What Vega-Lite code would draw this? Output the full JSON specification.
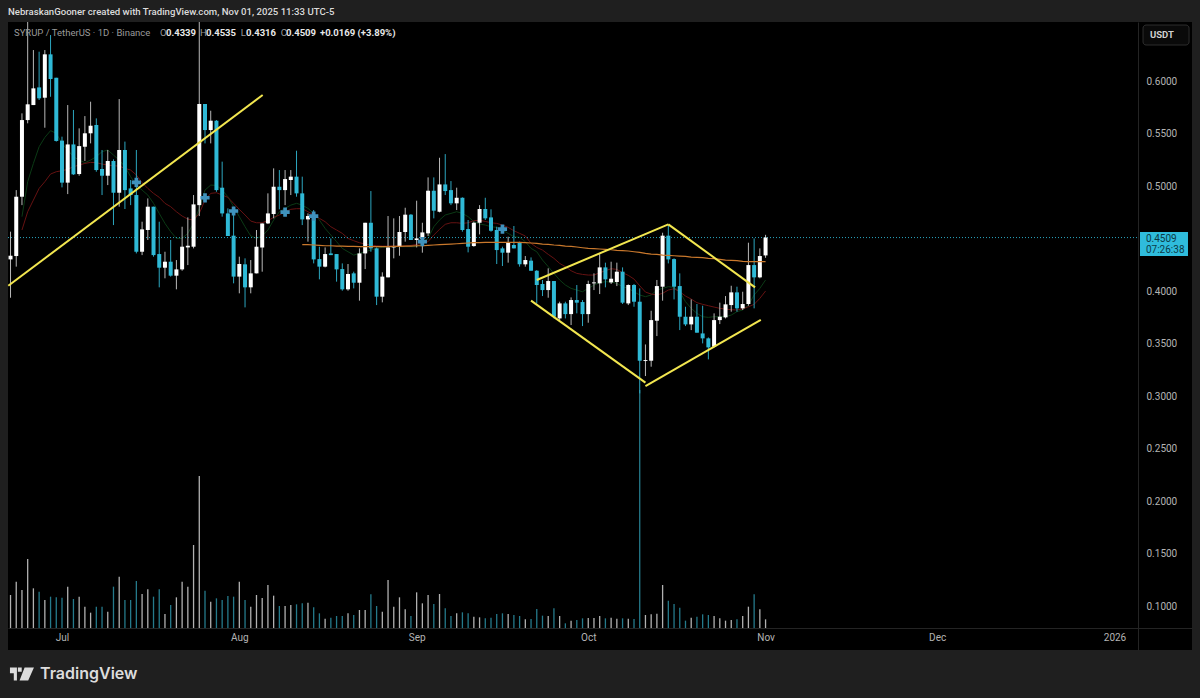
{
"$schema":"https://vega.github.io/schema/vega-lite/v6.json",
"description":"SYRUP / TetherUS daily candles with volume, moving averages and hand drawn trendlines.",
"width":1184,"height":628,
"autosize":{"type":"none"},
"padding":{"left":8,"top":22,"right":8,"bottom":48},
"background":"#1f1f1f",
"config":{"view":{"fill":"#000000","stroke":null},"font":"Roboto"},
"title":{"text":"NebraskanGooner created with TradingView.com, Nov 01, 2025 11:33 UTC-5","anchor":"start","frame":"group","offset":5,"fontSize":9.6,"fontWeight":500,"color":"#dcdcdc","font":"Roboto"},
"datasets":{
"candles":[
{"date":"2025-06-22","open":0.4301,"high":0.4565,"low":0.3936,"close":0.4336,"volume":9.9},
{"date":"2025-06-23","open":0.4333,"high":0.4961,"low":0.4232,"close":0.4898,"volume":13.9},
{"date":"2025-06-24","open":0.4898,"high":0.5692,"low":0.4818,"close":0.5628,"volume":11.4,"fast":0.4708,"slow":0.4581},
{"date":"2025-06-25","open":0.5628,"high":0.68,"low":0.5597,"close":0.5778,"volume":20.7,"fast":0.5041,"slow":0.4755},
{"date":"2025-06-26","open":0.5771,"high":0.6295,"low":0.5771,"close":0.593,"volume":11.9,"fast":0.5215,"slow":0.4866},
{"date":"2025-06-27","open":0.5939,"high":0.6279,"low":0.5819,"close":0.5835,"volume":10.9,"fast":0.5374,"slow":0.4977},
{"date":"2025-06-28","open":0.5841,"high":0.6295,"low":0.5555,"close":0.6254,"volume":8.4,"fast":0.5463,"slow":0.5041},
{"date":"2025-06-29","open":0.6254,"high":0.6438,"low":0.585,"close":0.6019,"volume":9.4,"fast":0.5527,"slow":0.5114},
{"date":"2025-06-30","open":0.6031,"high":0.6031,"low":0.5423,"close":0.5429,"volume":9.2,"fast":0.5502,"slow":0.5136},
{"date":"2025-07-01","open":0.5432,"high":0.547,"low":0.4987,"close":0.5032,"volume":9.1,"fast":0.5406,"slow":0.5146},
{"date":"2025-07-02","open":0.5032,"high":0.5771,"low":0.4923,"close":0.5396,"volume":12.4,"fast":0.5343,"slow":0.5159},
{"date":"2025-07-03","open":0.5396,"high":0.5724,"low":0.5105,"close":0.5111,"volume":8.7,"fast":0.5279,"slow":0.5184},
{"date":"2025-07-04","open":0.5114,"high":0.5549,"low":0.5098,"close":0.538,"volume":9.4,"fast":0.5247,"slow":0.52},
{"date":"2025-07-05","open":0.5374,"high":0.5666,"low":0.5238,"close":0.5502,"volume":6.4,"fast":0.5222,"slow":0.5215},
{"date":"2025-07-06","open":0.5502,"high":0.5803,"low":0.5406,"close":0.5574,"volume":4.6,"fast":0.5247,"slow":0.5225},
{"date":"2025-07-07","open":0.5581,"high":0.5644,"low":0.5136,"close":0.5152,"volume":6.4,"fast":0.5279,"slow":0.5222},
{"date":"2025-07-08","open":0.5162,"high":0.5343,"low":0.4914,"close":0.5098,"volume":6.4,"fast":0.5327,"slow":0.5209},
{"date":"2025-07-09","open":0.5098,"high":0.5343,"low":0.5009,"close":0.5238,"volume":4.9,"fast":0.5343,"slow":0.52},
{"date":"2025-07-10","open":0.5238,"high":0.5254,"low":0.4628,"close":0.4936,"volume":12.4,"fast":0.5295,"slow":0.5193},
{"date":"2025-07-11","open":0.4936,"high":0.5828,"low":0.4803,"close":0.5343,"volume":15.4,"fast":0.5247,"slow":0.519},
{"date":"2025-07-12","open":0.5343,"high":0.5423,"low":0.4781,"close":0.4961,"volume":8.4,"fast":0.5184,"slow":0.5168},
{"date":"2025-07-13","open":0.4977,"high":0.5057,"low":0.4818,"close":0.4914,"volume":8.4,"fast":0.5089,"slow":0.5152},
{"date":"2025-07-14","open":0.4914,"high":0.5343,"low":0.4358,"close":0.4374,"volume":14.1,"fast":0.5009,"slow":0.5105},
{"date":"2025-07-15","open":0.4374,"high":0.466,"low":0.4342,"close":0.4587,"volume":10.2,"fast":0.4961,"slow":0.5032},
{"date":"2025-07-16","open":0.4581,"high":0.4882,"low":0.4486,"close":0.4803,"volume":11.6,"fast":0.4914,"slow":0.4977},
{"date":"2025-07-17","open":0.4803,"high":0.4803,"low":0.4327,"close":0.4342,"volume":9.4,"fast":0.4835,"slow":0.493},
{"date":"2025-07-18","open":0.4352,"high":0.466,"low":0.4035,"close":0.4222,"volume":11.6,"fast":0.4739,"slow":0.4892},
{"date":"2025-07-19","open":0.4222,"high":0.4374,"low":0.4121,"close":0.4279,"volume":4.2,"fast":0.4644,"slow":0.4835},
{"date":"2025-07-20","open":0.4279,"high":0.4486,"low":0.4137,"close":0.4146,"volume":6.9,"fast":0.4565,"slow":0.4803},
{"date":"2025-07-21","open":0.4146,"high":0.4295,"low":0.4016,"close":0.4206,"volume":9.2,"fast":0.4501,"slow":0.4755},
{"date":"2025-07-22","open":0.4206,"high":0.4612,"low":0.4193,"close":0.4422,"volume":13.9,"fast":0.4501,"slow":0.4714},
{"date":"2025-07-23","open":0.4415,"high":0.4701,"low":0.4247,"close":0.4431,"volume":12.4,"fast":0.4549,"slow":0.4685},
{"date":"2025-07-24","open":0.4422,"high":0.4914,"low":0.4406,"close":0.4825,"volume":24.9,"fast":0.4644,"slow":0.4676},
{"date":"2025-07-25","open":0.4818,"high":0.75,"low":0.4714,"close":0.5781,"volume":45.6,"fast":0.4787,"slow":0.4739},
{"date":"2025-07-26","open":0.5781,"high":0.5781,"low":0.5406,"close":0.5533,"volume":11.2,"fast":0.4961,"slow":0.4866},
{"date":"2025-07-27","open":0.5533,"high":0.5717,"low":0.5406,"close":0.5622,"volume":7.9,"fast":0.5009,"slow":0.493},
{"date":"2025-07-28","open":0.5622,"high":0.5628,"low":0.4945,"close":0.4961,"volume":8.9,"fast":0.5006,"slow":0.4936},
{"date":"2025-07-29","open":0.4984,"high":0.5232,"low":0.4708,"close":0.4739,"volume":8.4,"fast":0.4961,"slow":0.4914},
{"date":"2025-07-30","open":0.4739,"high":0.4787,"low":0.4524,"close":0.4524,"volume":9.6,"fast":0.4898,"slow":0.4892},
{"date":"2025-07-31","open":0.4527,"high":0.4755,"low":0.4073,"close":0.4137,"volume":9.4,"fast":0.4803,"slow":0.4835},
{"date":"2025-08-01","open":0.4137,"high":0.4327,"low":0.3978,"close":0.4257,"volume":13.9,"fast":0.4708,"slow":0.4778},
{"date":"2025-08-02","open":0.4254,"high":0.4311,"low":0.3844,"close":0.4035,"volume":8.4,"fast":0.4612,"slow":0.4724},
{"date":"2025-08-03","open":0.4035,"high":0.4295,"low":0.3978,"close":0.4168,"volume":6.4,"fast":0.4524,"slow":0.4666},
{"date":"2025-08-04","open":0.4168,"high":0.4581,"low":0.4168,"close":0.4422,"volume":9.9,"fast":0.4501,"slow":0.465},
{"date":"2025-08-05","open":0.4415,"high":0.4644,"low":0.4184,"close":0.4644,"volume":9.0,"fast":0.4524,"slow":0.465},
{"date":"2025-08-06","open":0.4644,"high":0.493,"low":0.4638,"close":0.4739,"volume":12.9,"fast":0.4581,"slow":0.467},
{"date":"2025-08-07","open":0.4733,"high":0.5168,"low":0.4692,"close":0.4993,"volume":9.7,"fast":0.4676,"slow":0.4701},
{"date":"2025-08-08","open":0.4993,"high":0.5152,"low":0.4778,"close":0.4961,"volume":6.6,"fast":0.4755,"slow":0.4724},
{"date":"2025-08-09","open":0.4961,"high":0.5152,"low":0.4818,"close":0.5066,"volume":6.6,"fast":0.4787,"slow":0.4755},
{"date":"2025-08-10","open":0.5057,"high":0.5152,"low":0.4914,"close":0.5089,"volume":6.9,"fast":0.4818,"slow":0.4778},
{"date":"2025-08-11","open":0.5089,"high":0.5336,"low":0.4898,"close":0.493,"volume":7.1,"fast":0.4835,"slow":0.4784},
{"date":"2025-08-12","open":0.493,"high":0.5089,"low":0.4628,"close":0.4682,"volume":7.4,"fast":0.4818,"slow":0.4784,"long":0.4441},
{"date":"2025-08-13","open":0.4682,"high":0.4739,"low":0.447,"close":0.4714,"volume":7.6,"fast":0.4787,"slow":0.4755,"long":0.4441},
{"date":"2025-08-14","open":0.4708,"high":0.4771,"low":0.4263,"close":0.4301,"volume":6.2,"fast":0.4739,"slow":0.4724,"long":0.4438},
{"date":"2025-08-15","open":0.4304,"high":0.4422,"low":0.4111,"close":0.4232,"volume":4.4,"fast":0.4676,"slow":0.4692,"long":0.4434},
{"date":"2025-08-16","open":0.4232,"high":0.4415,"low":0.4225,"close":0.4352,"volume":2.8,"fast":0.4596,"slow":0.466,"long":0.4431},
{"date":"2025-08-17","open":0.4358,"high":0.4501,"low":0.4342,"close":0.4342,"volume":3.1,"fast":0.4533,"slow":0.4612,"long":0.4431},
{"date":"2025-08-18","open":0.4352,"high":0.4352,"low":0.4089,"close":0.4206,"volume":3.6,"fast":0.447,"slow":0.4581,"long":0.4428},
{"date":"2025-08-19","open":0.4209,"high":0.4263,"low":0.4003,"close":0.4016,"volume":3.6,"fast":0.4406,"slow":0.4549,"long":0.4428},
{"date":"2025-08-20","open":0.4016,"high":0.4257,"low":0.4003,"close":0.4162,"volume":4.4,"fast":0.4374,"slow":0.4501,"long":0.4425},
{"date":"2025-08-21","open":0.4168,"high":0.4184,"low":0.4025,"close":0.4079,"volume":3.9,"fast":0.4342,"slow":0.4479,"long":0.4425},
{"date":"2025-08-22","open":0.4079,"high":0.4406,"low":0.3908,"close":0.4358,"volume":5.4,"fast":0.4358,"slow":0.446,"long":0.4422},
{"date":"2025-08-23","open":0.4358,"high":0.465,"low":0.4209,"close":0.465,"volume":5.4,"fast":0.4374,"slow":0.4447,"long":0.4422},
{"date":"2025-08-24","open":0.465,"high":0.4952,"low":0.4374,"close":0.4406,"volume":10.1,"fast":0.439,"slow":0.4438,"long":0.4422},
{"date":"2025-08-25","open":0.4406,"high":0.4415,"low":0.3866,"close":0.3946,"volume":6.6,"fast":0.4406,"slow":0.4431,"long":0.4422},
{"date":"2025-08-26","open":0.3946,"high":0.4178,"low":0.3892,"close":0.4137,"volume":4.9,"fast":0.4415,"slow":0.4428,"long":0.4422},
{"date":"2025-08-27","open":0.413,"high":0.4714,"low":0.413,"close":0.4415,"volume":14.4,"fast":0.4422,"slow":0.4428,"long":0.4422},
{"date":"2025-08-28","open":0.4415,"high":0.4692,"low":0.4311,"close":0.4428,"volume":6.4,"fast":0.4422,"slow":0.4428,"long":0.4425},
{"date":"2025-08-29","open":0.4422,"high":0.4714,"low":0.4336,"close":0.4562,"volume":9.2,"fast":0.4422,"slow":0.4428,"long":0.4425},
{"date":"2025-08-30","open":0.4562,"high":0.4793,"low":0.447,"close":0.4727,"volume":5.6,"fast":0.4422,"slow":0.4428,"long":0.4428},
{"date":"2025-08-31","open":0.4727,"high":0.4733,"low":0.4486,"close":0.4486,"volume":3.6,"fast":0.4422,"slow":0.4434,"long":0.4428},
{"date":"2025-09-01","open":0.4486,"high":0.486,"low":0.4415,"close":0.4501,"volume":10.7,"fast":0.4422,"slow":0.4444,"long":0.4431},
{"date":"2025-09-02","open":0.4495,"high":0.465,"low":0.4365,"close":0.4558,"volume":7.4,"fast":0.4454,"slow":0.4454,"long":0.4431},
{"date":"2025-09-03","open":0.4549,"high":0.5082,"low":0.4524,"close":0.4955,"volume":9.9,"fast":0.4501,"slow":0.447,"long":0.4434},
{"date":"2025-09-04","open":0.4955,"high":0.5082,"low":0.4692,"close":0.4765,"volume":7.2,"fast":0.4612,"slow":0.4533,"long":0.4438},
{"date":"2025-09-05","open":0.4755,"high":0.5269,"low":0.4749,"close":0.5015,"volume":10.2,"fast":0.4676,"slow":0.4587,"long":0.4441},
{"date":"2025-09-06","open":0.5015,"high":0.5304,"low":0.4914,"close":0.4952,"volume":5.9,"fast":0.4724,"slow":0.4635,"long":0.4444},
{"date":"2025-09-07","open":0.4961,"high":0.5047,"low":0.4818,"close":0.4835,"volume":3.6,"fast":0.4739,"slow":0.465,"long":0.4447},
{"date":"2025-09-08","open":0.4835,"high":0.4984,"low":0.4771,"close":0.4888,"volume":4.4,"fast":0.4755,"slow":0.465,"long":0.445},
{"date":"2025-09-09","open":0.4888,"high":0.4892,"low":0.4565,"close":0.4581,"volume":4.7,"fast":0.4739,"slow":0.4644,"long":0.4454},
{"date":"2025-09-10","open":0.459,"high":0.4676,"low":0.4368,"close":0.4422,"volume":4.4,"fast":0.4708,"slow":0.465,"long":0.4457},
{"date":"2025-09-11","open":0.4428,"high":0.466,"low":0.4422,"close":0.465,"volume":3.4,"fast":0.466,"slow":0.467,"long":0.446},
{"date":"2025-09-12","open":0.465,"high":0.4818,"low":0.4539,"close":0.4781,"volume":3.2,"fast":0.4638,"slow":0.4673,"long":0.446},
{"date":"2025-09-13","open":0.4781,"high":0.4888,"low":0.4676,"close":0.4692,"volume":2.9,"fast":0.4628,"slow":0.4663,"long":0.4463},
{"date":"2025-09-14","open":0.4701,"high":0.4778,"low":0.4565,"close":0.4574,"volume":3.1,"fast":0.4612,"slow":0.465,"long":0.4463},
{"date":"2025-09-15","open":0.4581,"high":0.4612,"low":0.4257,"close":0.439,"volume":4.2,"fast":0.4606,"slow":0.4644,"long":0.4463},
{"date":"2025-09-16","open":0.4406,"high":0.4422,"low":0.4238,"close":0.4365,"volume":4.4,"fast":0.4581,"slow":0.4628,"long":0.4463},
{"date":"2025-09-17","open":0.4365,"high":0.4517,"low":0.427,"close":0.4463,"volume":4.2,"fast":0.4549,"slow":0.4606,"long":0.4463},
{"date":"2025-09-18","open":0.4438,"high":0.4619,"low":0.4406,"close":0.4406,"volume":3.9,"fast":0.4517,"slow":0.4574,"long":0.4463},
{"date":"2025-09-19","open":0.446,"high":0.447,"low":0.4232,"close":0.4254,"volume":3.6,"fast":0.4511,"slow":0.4549,"long":0.4463},
{"date":"2025-09-20","open":0.4254,"high":0.4333,"low":0.4232,"close":0.4295,"volume":2.6,"fast":0.447,"slow":0.4524,"long":0.446},
{"date":"2025-09-21","open":0.4289,"high":0.432,"low":0.4193,"close":0.4193,"volume":2.7,"fast":0.4406,"slow":0.4454,"long":0.4457},
{"date":"2025-09-22","open":0.4193,"high":0.4199,"low":0.3882,"close":0.4057,"volume":5.7,"fast":0.4374,"slow":0.4415,"long":0.4454},
{"date":"2025-09-23","open":0.4067,"high":0.4105,"low":0.3952,"close":0.4009,"volume":3.7,"fast":0.4295,"slow":0.439,"long":0.4447},
{"date":"2025-09-24","open":0.4009,"high":0.4216,"low":0.3936,"close":0.4095,"volume":3.6,"fast":0.4232,"slow":0.4349,"long":0.4444},
{"date":"2025-09-25","open":0.4095,"high":0.4095,"low":0.3739,"close":0.3755,"volume":5.9,"fast":0.4168,"slow":0.4311,"long":0.4438},
{"date":"2025-09-26","open":0.3739,"high":0.3898,"low":0.3723,"close":0.3882,"volume":3.6,"fast":0.4105,"slow":0.4263,"long":0.4434},
{"date":"2025-09-27","open":0.3882,"high":0.3898,"low":0.3739,"close":0.378,"volume":1.4,"fast":0.4057,"slow":0.4232,"long":0.4428},
{"date":"2025-09-28","open":0.378,"high":0.3939,"low":0.3676,"close":0.3914,"volume":2.2,"fast":0.4025,"slow":0.4193,"long":0.4425},
{"date":"2025-09-29","open":0.3914,"high":0.4057,"low":0.3787,"close":0.3889,"volume":2.4,"fast":0.4009,"slow":0.4168,"long":0.4419},
{"date":"2025-09-30","open":0.3895,"high":0.3914,"low":0.3666,"close":0.378,"volume":2.9,"fast":0.3993,"slow":0.4158,"long":0.4412},
{"date":"2025-10-01","open":0.378,"high":0.4098,"low":0.3698,"close":0.4067,"volume":3.0,"fast":0.4025,"slow":0.4152,"long":0.4406},
{"date":"2025-10-02","open":0.4073,"high":0.4168,"low":0.4009,"close":0.4082,"volume":3.0,"fast":0.4057,"slow":0.4152,"long":0.4403},
{"date":"2025-10-03","open":0.4073,"high":0.4352,"low":0.3971,"close":0.4225,"volume":3.6,"fast":0.4079,"slow":0.4174,"long":0.44},
{"date":"2025-10-04","open":0.4225,"high":0.427,"low":0.4035,"close":0.4111,"volume":2.9,"fast":0.4089,"slow":0.4193,"long":0.4396},
{"date":"2025-10-05","open":0.4082,"high":0.4279,"low":0.4067,"close":0.4117,"volume":3.1,"fast":0.4086,"slow":0.4212,"long":0.4393},
{"date":"2025-10-06","open":0.4086,"high":0.427,"low":0.4047,"close":0.4184,"volume":2.8,"fast":0.4073,"slow":0.4206,"long":0.4387},
{"date":"2025-10-07","open":0.4184,"high":0.4225,"low":0.3876,"close":0.3889,"volume":2.9,"fast":0.4041,"slow":0.4174,"long":0.4384},
{"date":"2025-10-08","open":0.3882,"high":0.4063,"low":0.3866,"close":0.4057,"volume":2.8,"fast":0.4025,"slow":0.4149,"long":0.4381},
{"date":"2025-10-09","open":0.4057,"high":0.4067,"low":0.385,"close":0.3898,"volume":2.7,"fast":0.3993,"slow":0.4114,"long":0.4374},
{"date":"2025-10-10","open":0.3898,"high":0.4025,"low":0.3025,"close":0.3336,"volume":71.4,"fast":0.3962,"slow":0.405,"long":0.4368},
{"date":"2025-10-11","open":0.3333,"high":0.3491,"low":0.319,"close":0.3342,"volume":3.9,"fast":0.3946,"slow":0.399,"long":0.4358},
{"date":"2025-10-12","open":0.3336,"high":0.3812,"low":0.3279,"close":0.3723,"volume":4.1,"fast":0.3962,"slow":0.3971,"long":0.4352},
{"date":"2025-10-13","open":0.3717,"high":0.4105,"low":0.3571,"close":0.4047,"volume":4.3,"fast":0.4009,"slow":0.3962,"long":0.4349},
{"date":"2025-10-14","open":0.4041,"high":0.4555,"low":0.3908,"close":0.4527,"volume":12.9,"fast":0.4025,"slow":0.3978,"long":0.4342},
{"date":"2025-10-15","open":0.4527,"high":0.4628,"low":0.4263,"close":0.4301,"volume":8.2,"fast":0.4041,"slow":0.4009,"long":0.4339},
{"date":"2025-10-16","open":0.4304,"high":0.4311,"low":0.392,"close":0.4041,"volume":7.2,"fast":0.4035,"slow":0.4022,"long":0.4336},
{"date":"2025-10-17","open":0.4047,"high":0.4168,"low":0.3628,"close":0.3755,"volume":6.1,"fast":0.3993,"slow":0.3993,"long":0.4333},
{"date":"2025-10-18","open":0.3755,"high":0.385,"low":0.3666,"close":0.3682,"volume":2.2,"fast":0.3898,"slow":0.3952,"long":0.433},
{"date":"2025-10-19","open":0.3682,"high":0.392,"low":0.3628,"close":0.3755,"volume":3.1,"fast":0.3835,"slow":0.3923,"long":0.4323},
{"date":"2025-10-20","open":0.3755,"high":0.3876,"low":0.3603,"close":0.3603,"volume":3.4,"fast":0.3787,"slow":0.3889,"long":0.432},
{"date":"2025-10-21","open":0.3596,"high":0.386,"low":0.3501,"close":0.3549,"volume":4.1,"fast":0.3755,"slow":0.3873,"long":0.4317},
{"date":"2025-10-22","open":0.3549,"high":0.3558,"low":0.3349,"close":0.3463,"volume":3.9,"fast":0.3749,"slow":0.386,"long":0.4311},
{"date":"2025-10-23","open":0.3469,"high":0.3787,"low":0.3463,"close":0.3723,"volume":3.6,"fast":0.3755,"slow":0.3847,"long":0.4308},
{"date":"2025-10-24","open":0.3723,"high":0.3889,"low":0.3685,"close":0.3755,"volume":2.9,"fast":0.3755,"slow":0.3835,"long":0.4301},
{"date":"2025-10-25","open":0.3749,"high":0.3952,"low":0.3739,"close":0.3873,"volume":2.2,"fast":0.3755,"slow":0.3828,"long":0.4295},
{"date":"2025-10-26","open":0.3866,"high":0.405,"low":0.3803,"close":0.3987,"volume":2.4,"fast":0.3771,"slow":0.3822,"long":0.4292},
{"date":"2025-10-27","open":0.3987,"high":0.4041,"low":0.3803,"close":0.3835,"volume":2.6,"fast":0.3803,"slow":0.3819,"long":0.4289},
{"date":"2025-10-28","open":0.3835,"high":0.3993,"low":0.3819,"close":0.3876,"volume":3.6,"fast":0.3819,"slow":0.3831,"long":0.4282},
{"date":"2025-10-29","open":0.3876,"high":0.446,"low":0.386,"close":0.4247,"volume":6.4,"fast":0.3866,"slow":0.385,"long":0.4279},
{"date":"2025-10-30","open":0.4247,"high":0.4501,"low":0.3835,"close":0.413,"volume":10.1,"fast":0.3962,"slow":0.3873,"long":0.4279},
{"date":"2025-10-31","open":0.413,"high":0.4406,"low":0.4121,"close":0.4333,"volume":5.6,"fast":0.4025,"slow":0.393,"long":0.4279},
{"date":"2025-11-01","open":0.4339,"high":0.4535,"low":0.4316,"close":0.4509,"volume":2.6,"fast":0.4105,"slow":0.4,"long":0.4279}
],
"crosses":[
{"date":"2025-07-14","price":0.5035},
{"date":"2025-07-26","price":0.4888},
{"date":"2025-07-31","price":0.4762},
{"date":"2025-08-09","price":0.4752},
{"date":"2025-08-14","price":0.4714},
{"date":"2025-09-02","price":0.447},
{"date":"2025-09-16","price":0.459}
],
"trendlines":[
{"line":"a","date":"2025-06-21T14:38:00Z","price":0.405},
{"line":"a","date":"2025-08-05T02:00:00Z","price":0.5867},
{"line":"b","date":"2025-09-22T00:00:00Z","price":0.4105},
{"line":"b","date":"2025-10-15T00:00:00Z","price":0.4635},
{"line":"c","date":"2025-10-15T00:00:00Z","price":0.4635},
{"line":"c","date":"2025-10-30T04:00:00Z","price":0.4035},
{"line":"d","date":"2025-09-21T00:00:00Z","price":0.3908},
{"line":"d","date":"2025-10-11T00:00:00Z","price":0.3127},
{"line":"e","date":"2025-10-11T00:00:00Z","price":0.3095},
{"line":"e","date":"2025-10-31T04:00:00Z","price":0.3724}
],
"lastPrice":[{"date":"2025-06-21T13:26:00Z","date2":"2026-01-05T02:24:00Z","price":0.4509}],
"boxes":[
{"box":"tag","date":"2026-01-05T11:00:00Z","date2":"2026-01-13T20:24:00Z","price":0.4562,"price2":0.4333}
],
"button":[
{"date":"2026-01-05T23:45:00Z","date2":"2026-01-14T00:45:00Z","price":0.6533,"price2":0.6343}
],
"tagText":[
{"date":"2026-01-06T12:00:00Z","price":0.45,"label":"0.4509"},
{"date":"2026-01-06T12:00:00Z","price":0.439,"label":"07:26:38"}
],
"buttonText":[{"date":"2026-01-07T05:00:00Z","price":0.6438,"label":"USDT"}],
"legendNames":[
{"date":"2025-06-22T14:38:00Z","price":0.6457,"label":"SYRUP / TetherUS · 1D · Binance"},
{"date":"2025-07-18T03:07:00Z","price":0.6457,"label":"O"},
{"date":"2025-07-25T03:07:00Z","price":0.6457,"label":"H"},
{"date":"2025-08-01T05:46:00Z","price":0.6457,"label":"L"},
{"date":"2025-08-08T05:31:00Z","price":0.6457,"label":"C"}
],
"legendValues":[
{"date":"2025-07-19T04:19:00Z","price":0.6457,"label":"0.4339"},
{"date":"2025-07-26T04:05:00Z","price":0.6457,"label":"0.4535"},
{"date":"2025-08-02T04:05:00Z","price":0.6457,"label":"0.4316"},
{"date":"2025-08-09T03:50:00Z","price":0.6457,"label":"0.4509"},
{"date":"2025-08-15T02:24:00Z","price":0.6457,"label":"+0.0169 (+3.89%)"}
],
"logoMark":[{"date":"2025-06-24T00:00:00Z","price":0.0352}],
"logoText":[{"date":"2025-06-27T03:36:00Z","price":0.0352,"label":"TradingView"}]
},
"data":{"name":"candles"},
"encoding":{
"x":{"field":"date","type":"temporal",
"scale":{"type":"utc","nice":false,"padding":0,"domain":["2025-06-21T13:26:00Z","2026-01-14T13:12:00Z"]},
"axis":{"title":null,"orient":"bottom","offset":-22,"ticks":false,"grid":false,"domainColor":"#242424",
"values":[{"year":2025,"month":7,"date":1,"utc":true},{"year":2025,"month":8,"date":1,"utc":true},{"year":2025,"month":9,"date":1,"utc":true},{"year":2025,"month":10,"date":1,"utc":true},{"year":2025,"month":11,"date":1,"utc":true},{"year":2025,"month":12,"date":1,"utc":true},{"year":2026,"month":1,"date":1,"utc":true}],
"labelExpr":"utcmonth(datum.value)==0 ? '2026' : utcFormat(datum.value,'%b')",
"labelColor":"#b4b4b4","labelFontSize":10,"labelPadding":4,"labelOverlap":false,"labelBound":false,"labelFlush":false}}
},
"layer":[
{"mark":{"type":"bar","size":1.3,"opacity":0.85},
"encoding":{
"y":{"field":"volume","type":"quantitative","scale":{"domain":[-6.6,181.8],"nice":false},"axis":null},
"color":{"condition":{"test":"datum.close>=datum.open","value":"#d0d0d0"},"value":"#2c8fa3"}}},
{"mark":{"type":"line","color":"#0b3a15","strokeWidth":1},
"encoding":{"y":{"field":"fast","type":"quantitative","scale":{"domain":[0.0581,0.6562],"nice":false,"zero":false},
"axis":{"title":null,"orient":"right","offset":-54,"ticks":false,"grid":false,"domainColor":"#242424",
"values":[0.1,0.15,0.2,0.25,0.3,0.35,0.4,0.45,0.5,0.55,0.6],"format":".4f","labelColor":"#b4b4b4","labelFontSize":10,"labelPadding":8,"labelOverlap":false,"labelBound":false,"labelFlush":false}}}},
{"mark":{"type":"line","color":"#661212","strokeWidth":1},
"encoding":{"y":{"field":"slow","type":"quantitative","scale":{"domain":[0.0581,0.6562],"nice":false,"zero":false},"axis":null}}},
{"data":{"name":"lastPrice"},"mark":{"type":"rule","color":"#2aa5bf","strokeWidth":1,"strokeDash":[1,2]},
"encoding":{"x2":{"field":"date2"},"y":{"field":"price","type":"quantitative","scale":{"domain":[0.0581,0.6562],"nice":false,"zero":false},"axis":null}}},
{"mark":{"type":"rule","strokeWidth":1,"clip":true},
"encoding":{"y":{"field":"low","type":"quantitative","scale":{"domain":[0.0581,0.6562],"nice":false,"zero":false},"axis":null},"y2":{"field":"high"},
"color":{"condition":{"test":"datum.close>=datum.open","value":"#b8b8b8"},"value":"#2ca6bf"}}},
{"mark":{"type":"bar","size":4},
"encoding":{"y":{"field":"open","type":"quantitative","scale":{"domain":[0.0581,0.6562],"nice":false,"zero":false},"axis":null},"y2":{"field":"close"},
"color":{"condition":{"test":"datum.close>=datum.open","value":"#ffffff"},"value":"#2fb9d6"}}},
{"mark":{"type":"line","color":"#c9782c","strokeWidth":1.2},
"encoding":{"y":{"field":"long","type":"quantitative","scale":{"domain":[0.0581,0.6562],"nice":false,"zero":false},"axis":null}}},
{"data":{"name":"crosses"},"mark":{"type":"point","shape":"cross","filled":true,"size":85,"color":"#3f92bd","opacity":1},
"encoding":{"y":{"field":"price","type":"quantitative","scale":{"domain":[0.0581,0.6562],"nice":false,"zero":false},"axis":null}}},
{"data":{"name":"trendlines"},"mark":{"type":"line","color":"#f2e64f","strokeWidth":2},
"encoding":{"detail":{"field":"line"},"y":{"field":"price","type":"quantitative","scale":{"domain":[0.0581,0.6562],"nice":false,"zero":false},"axis":null}}},
{"data":{"name":"boxes"},"mark":{"type":"rect","color":"#2fbcdc"},
"encoding":{"x2":{"field":"date2"},"y":{"field":"price","type":"quantitative","scale":{"domain":[0.0581,0.6562],"nice":false,"zero":false},"axis":null},"y2":{"field":"price2"}}},
{"data":{"name":"button"},"mark":{"type":"rect","fill":"#0a0a0a","stroke":"#2e2e2e","strokeWidth":1,"cornerRadius":3},
"encoding":{"x2":{"field":"date2"},"y":{"field":"price","type":"quantitative","scale":{"domain":[0.0581,0.6562],"nice":false,"zero":false},"axis":null},"y2":{"field":"price2"}}},
{"data":{"name":"tagText"},"mark":{"type":"text","align":"left","baseline":"middle","fontSize":10,"color":"#0c3a46"},
"encoding":{"text":{"field":"label"},"y":{"field":"price","type":"quantitative","scale":{"domain":[0.0581,0.6562],"nice":false,"zero":false},"axis":null}}},
{"data":{"name":"buttonText"},"mark":{"type":"text","align":"left","baseline":"middle","fontSize":9.5,"fontWeight":"bold","color":"#d0d0d0"},
"encoding":{"text":{"field":"label"},"y":{"field":"price","type":"quantitative","scale":{"domain":[0.0581,0.6562],"nice":false,"zero":false},"axis":null}}},
{"data":{"name":"legendNames"},"mark":{"type":"text","align":"left","baseline":"middle","fontSize":9.5,"color":"#9a9a9a"},
"encoding":{"text":{"field":"label"},"y":{"field":"price","type":"quantitative","scale":{"domain":[0.0581,0.6562],"nice":false,"zero":false},"axis":null}}},
{"data":{"name":"legendValues"},"mark":{"type":"text","align":"left","baseline":"middle","fontSize":9.5,"fontWeight":"bold","color":"#e8e8e8"},
"encoding":{"text":{"field":"label"},"y":{"field":"price","type":"quantitative","scale":{"domain":[0.0581,0.6562],"nice":false,"zero":false},"axis":null}}},
{"data":{"name":"logoMark"},"mark":{"type":"point","filled":true,"size":576,"opacity":1,"color":"#dcdcdc","shape":"M-1,-.54 H-.42 V.54 H-.68 V-.06 H-1 Z M-.34,-.54 H-.02 V-.2 H-.34 Z M.22,-.54 H1 L.52,.54 H-.2 Z"},
"encoding":{"y":{"field":"price","type":"quantitative","scale":{"domain":[0.0581,0.6562],"nice":false,"zero":false},"axis":null}}},
{"data":{"name":"logoText"},"mark":{"type":"text","align":"left","baseline":"middle","fontSize":16,"fontWeight":600,"font":"Inter","color":"#dcdcdc"},
"encoding":{"text":{"field":"label"},"y":{"field":"price","type":"quantitative","scale":{"domain":[0.0581,0.6562],"nice":false,"zero":false},"axis":null}}}
],
"resolve":{"scale":{"y":"independent"}}
}
